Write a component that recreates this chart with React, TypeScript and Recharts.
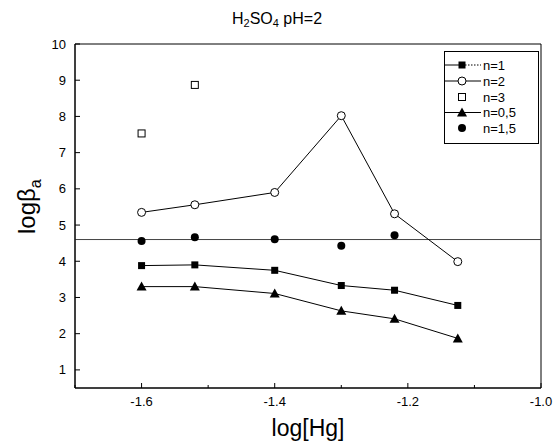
import React from 'react';
import { ComposedChart, Scatter, XAxis, YAxis, ReferenceLine, ReferenceArea, Label } from 'recharts';

const xValues = [-1.6, -1.52, -1.4, -1.3, -1.22, -1.125];
const n1Values = [3.88, 3.9, 3.75, 3.33, 3.2, 2.78];
const n2Values = [5.35, 5.56, 5.9, 8.02, 5.31, 3.99];
const n3Values = [7.53, 8.87];
const n05Values = [3.3, 3.3, 3.11, 2.63, 2.41, 1.87];
const n15Values = [4.56, 4.66, 4.61, 4.43, 4.72];
const meanLevel = 4.6;

const xTicks = [-1.7, -1.6, -1.5, -1.4, -1.3, -1.2, -1.1, -1.0];
const xLabeled = [-1.6, -1.4, -1.2, -1.0];
const yTicks = [0.5, 1, 1.5, 2, 2.5, 3, 3.5, 4, 4.5, 5, 5.5, 6, 6.5, 7, 7.5, 8, 8.5, 9, 9.5, 10];
const legendNames = ['n=1', 'n=2', 'n=3', 'n=0,5', 'n=1,5'];

const FONT = '"Liberation Sans", Arial, sans-serif';

const toPoints = (vals: number[]) => vals.map((y, i) => ({ x: xValues[i], y }));

const near = (a: number, list: number[]) => list.some((b) => Math.abs(a - b) < 1e-6);

const XTick = (props: any) => {
  const { x, y, payload } = props;
  const major = near(payload.value, xLabeled);
  return (
    <g>
      <line x1={x} x2={x} y1={y} y2={y - (major ? 5 : 3)} stroke="#000" strokeWidth={1} />
      {major && (
        <text x={x} y={y + 18} textAnchor="middle" fontSize={13} fontFamily={FONT} fill="#000">
          {payload.value.toFixed(1)}
        </text>
      )}
    </g>
  );
};

const YTick = (props: any) => {
  const { x, y, payload } = props;
  const major = Number.isInteger(payload.value);
  return (
    <g>
      <line x1={x} x2={x + (major ? 5 : 3)} y1={y} y2={y} stroke="#000" strokeWidth={1} />
      {major && payload.value >= 1 && (
        <text x={x - 9} y={y + 4.5} textAnchor="end" fontSize={13} fontFamily={FONT} fill="#000">
          {payload.value}
        </text>
      )}
    </g>
  );
};

const FilledSquare = (p: any) => <rect x={p.cx - 3.5} y={p.cy - 3.5} width={7} height={7} fill="#000" />;
const OpenSquare = (p: any) => (
  <rect x={p.cx - 3.5} y={p.cy - 3.5} width={7} height={7} fill="#fff" stroke="#000" strokeWidth={1} />
);
const OpenCircle = (p: any) => <circle cx={p.cx} cy={p.cy} r={4} fill="#fff" stroke="#000" strokeWidth={1} />;
const FilledCircle = (p: any) => <circle cx={p.cx} cy={p.cy} r={4} fill="#000" />;
const Triangle = (p: any) => (
  <path d={`M${p.cx},${p.cy - 5} L${p.cx + 5},${p.cy + 4} L${p.cx - 5},${p.cy + 4} Z`} fill="#000" />
);

const Legend = () => {
  const rows = [65, 81, 97, 112.5, 128];
  const mx = 18;
  const top = 51;
  const marker = (i: number, cy: number) => {
    const p = { cx: mx, cy };
    if (i === 0) return <FilledSquare {...p} />;
    if (i === 1) return <OpenCircle {...p} />;
    if (i === 2) return <OpenSquare {...p} />;
    if (i === 3) return <Triangle {...p} />;
    return <FilledCircle {...p} />;
  };
  return (
    <svg width={95} height={93} style={{ position: 'absolute', left: 444, top, overflow: 'visible' }}>
      <rect x={0.5} y={0.5} width={94} height={92} fill="#fff" stroke="#000" strokeWidth={1} />
      {legendNames.map((name, i) => {
        const cy = rows[i] - top;
        const hasLine = i === 0 || i === 1 || i === 3;
        return (
          <g key={name}>
            {hasLine && <line x1={1} x2={mx} y1={cy} y2={cy} stroke="#000" strokeWidth={1} />}
            {hasLine && (
              <line
                x1={mx}
                x2={37}
                y1={cy}
                y2={cy}
                stroke="#000"
                strokeWidth={1}
                strokeDasharray={i === 0 ? '1.5 1.5' : undefined}
              />
            )}
            {marker(i, cy)}
            <text x={39} y={cy + 4.5} fontSize={13} fontFamily={FONT} fill="#000">
              {name}
            </text>
          </g>
        );
      })}
    </svg>
  );
};

export default function App() {
  const n1 = toPoints(n1Values);
  const n2 = toPoints(n2Values);
  const n3 = toPoints(n3Values);
  const n05 = toPoints(n05Values);
  const n15 = toPoints(n15Values);

  return (
    <div style={{ position: 'absolute', left: 0, top: 0, width: 554, height: 445, background: '#fff' }}>
      <div
        style={{
          position: 'absolute',
          left: 0,
          width: 554,
          top: 10,
          textAlign: 'center',
          fontFamily: FONT,
          fontSize: 16,
          lineHeight: '18px',
          color: '#000',
        }}
      >
        H<sub style={{ fontSize: 11, verticalAlign: '-3px' }}>2</sub>SO
        <sub style={{ fontSize: 11, verticalAlign: '-3px' }}>4</sub> pH=2
      </div>
      <ComposedChart width={554} height={445} margin={{ top: 44, right: 13, left: 0, bottom: 0 }}>
        <XAxis
          type="number"
          dataKey="x"
          domain={[-1.7, -1.0]}
          ticks={xTicks}
          tick={<XTick />}
          tickSize={0}
          tickMargin={0}
          tickLine={false}
          height={57}
          stroke="#000"
          allowDataOverflow
        >
          <Label
            content={() => (
              <text x={308} y={436} textAnchor="middle" fontSize={23} fontFamily={FONT} fill="#000">
                log[Hg]
              </text>
            )}
          />
        </XAxis>
        <YAxis
          type="number"
          dataKey="y"
          domain={[0.5, 10]}
          ticks={yTicks}
          tick={<YTick />}
          tickSize={0}
          tickMargin={0}
          tickLine={false}
          width={75}
          stroke="#000"
          allowDataOverflow
        >
          <Label
            content={() => (
              <text
                x={0}
                y={0}
                transform="translate(35,234) rotate(-90)"
                fontSize={24}
                fontFamily={FONT}
                fill="#000"
              >
                logβ
                <tspan fontSize={16} dy={6}>
                  a
                </tspan>
              </text>
            )}
          />
        </YAxis>
        <ReferenceArea x1={-1.7} x2={-1.0} y1={0.5} y2={10} fill="none" stroke="#000" strokeWidth={1} />
        <ReferenceLine y={meanLevel} stroke="#444" strokeWidth={1} />
        <Scatter
          name="n=1"
          data={n1}
          line={{ stroke: '#000', strokeWidth: 1 }}
          shape={FilledSquare}
          isAnimationActive={false}
        />
        <Scatter
          name="n=2"
          data={n2}
          line={{ stroke: '#000', strokeWidth: 1 }}
          shape={OpenCircle}
          isAnimationActive={false}
        />
        <Scatter name="n=3" data={n3} shape={OpenSquare} isAnimationActive={false} />
        <Scatter
          name="n=0,5"
          data={n05}
          line={{ stroke: '#000', strokeWidth: 1 }}
          shape={Triangle}
          isAnimationActive={false}
        />
        <Scatter name="n=1,5" data={n15} shape={FilledCircle} isAnimationActive={false} />
      </ComposedChart>
      <Legend />
    </div>
  );
}
